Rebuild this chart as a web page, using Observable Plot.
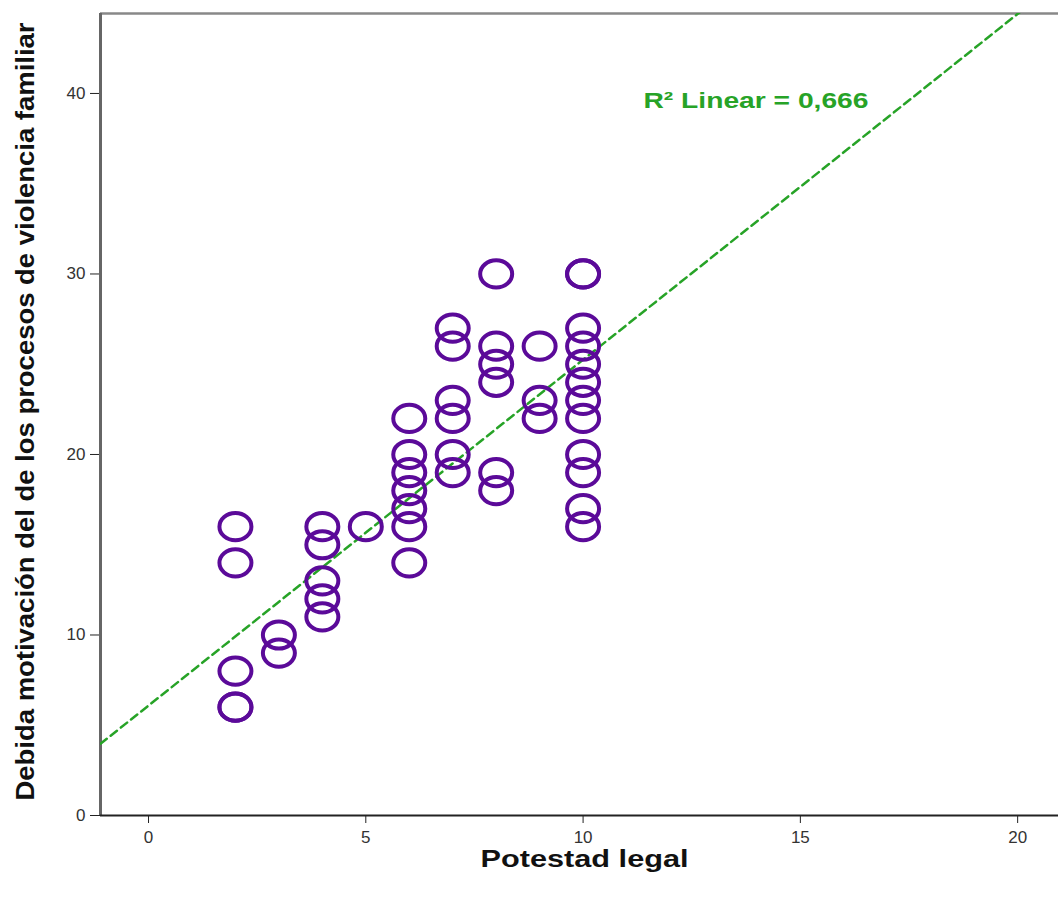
<!DOCTYPE html>
<html>
<head>
<meta charset="utf-8">
<script src="https://cdn.jsdelivr.net/npm/d3@7"></script>
<script src="https://cdn.jsdelivr.net/npm/@observablehq/plot@0.6"></script>
<style>
  body { margin: 0; background: #fff; }
  #chart svg { display: block; }
</style>
</head>
<body>
<div id="chart"></div>
<script>
// Scatter of "Potestad legal" against "Debida motivación..." with a linear fit.
const potestad = [
  2, 2, 2, 2, 2,
  3, 3,
  4, 4, 4, 4, 4,
  5,
  6, 6, 6, 6, 6, 6, 6,
  7, 7, 7, 7, 7, 7,
  8, 8, 8, 8, 8, 8,
  9, 9, 9,
  10, 10, 10, 10, 10, 10, 10, 10, 10, 10, 10, 10
];
const motivacion = [
  16, 14, 8, 6, 6,
  10, 9,
  16, 15, 13, 12, 11,
  16,
  22, 20, 19, 18, 17, 16, 14,
  27, 26, 23, 22, 20, 19,
  30, 26, 25, 24, 19, 18,
  26, 23, 22,
  30, 30, 27, 26, 25, 24, 23, 22, 20, 19, 17, 16
];

// Fitted line and its fit statistic
const fitIntercept = 6.09;
const fitSlope = 1.916;
const rSquaredLabel = "R² Linear = 0,666";

const xTitle = "Potestad legal";
const yTitle = "Debida motivación del de los procesos de violencia familiar";
const xTicks = [0, 5, 10, 15, 20];
const yTicks = [0, 10, 20, 30, 40];

const xDomain = [-1.105, 20.94];
const yDomain = [0, 44.43];

const points = potestad.map((x, i) => ({x, y: motivacion[i]}));
const fitLine = xDomain.map(x => ({x, y: fitIntercept + fitSlope * x}));

// Hollow ellipse marker, slightly wider than tall
const ellipse = {
  draw(context, size) {
    const r = Math.sqrt(size / Math.PI);
    const rx = r, ry = r * 0.85, k = 0.5523;
    context.moveTo(rx, 0);
    context.bezierCurveTo(rx, ry * k, rx * k, ry, 0, ry);
    context.bezierCurveTo(-rx * k, ry, -rx, ry * k, -rx, 0);
    context.bezierCurveTo(-rx, -ry * k, -rx * k, -ry, 0, -ry);
    context.bezierCurveTo(rx * k, -ry, rx, -ry * k, rx, 0);
    context.closePath();
  }
};

const purple = "#5b0a99";
const green = "#27a327";
const frameColor = "#666";
const titleFont = "'Liberation Sans', Arial, sans-serif";

const chart = Plot.plot({
  width: 1058,
  height: 899,
  marginLeft: 100,
  marginRight: 0,
  marginTop: 13,
  marginBottom: 84,
  style: {fontFamily: "'Liberation Sans', Arial, sans-serif", color: "#222", background: "#fff"},
  x: {domain: xDomain, ticks: xTicks, label: null},
  y: {domain: yDomain, ticks: yTicks, label: null},
  marks: [
    Plot.axisX({ticks: xTicks, tickSize: 8, tickPadding: 7, fontSize: 17, label: null, stroke: "#222", fill: "#333"}),
    Plot.axisY({ticks: yTicks, tickSize: 10, tickPadding: 5, fontSize: 17, label: null, stroke: "#222", fill: "#333"}),
    Plot.ruleY([yDomain[1]], {stroke: "#888", strokeWidth: 2.5}),
    Plot.ruleX([xDomain[0]], {stroke: frameColor, strokeWidth: 3}),
    Plot.ruleY([0], {stroke: "#222", strokeWidth: 2}),
    Plot.line(fitLine, {x: "x", y: "y", stroke: green, strokeWidth: 2.5, strokeDasharray: "8,5", clip: true}),
    Plot.dot(points, {x: "x", y: "y", r: 16, symbol: ellipse, stroke: purple, strokeWidth: 4, fill: "none"}),
    Plot.text([rSquaredLabel], {
      x: 11.39, y: 39.61, text: d => d, textAnchor: "start",
      fill: green, fontSize: 22, fontWeight: "bold"
    }),
    Plot.text([xTitle], {
      frameAnchor: "bottom", dx: 5, dy: 51, text: d => d,
      fontSize: 24, fontWeight: "bold", fill: "#111", fontFamily: titleFont
    }),
    Plot.text([yTitle], {
      frameAnchor: "bottom-left", dx: -67, dy: -15, rotate: -90, textAnchor: "start",
      text: d => d, fontSize: 26, fontWeight: "bold", fill: "#111", fontFamily: titleFont
    })
  ]
});

document.getElementById("chart").append(chart);

// Fit the titles and the fit label to their drawn widths
const lengths = {[xTitle]: 208, [yTitle]: 778, [rSquaredLabel]: 225};
d3.select(chart).selectAll("text").each(function() {
  const t = this.textContent;
  if (lengths[t]) {
    this.setAttribute("textLength", lengths[t]);
    this.setAttribute("lengthAdjust", "spacingAndGlyphs");
  }
});
</script>
</body>
</html>
